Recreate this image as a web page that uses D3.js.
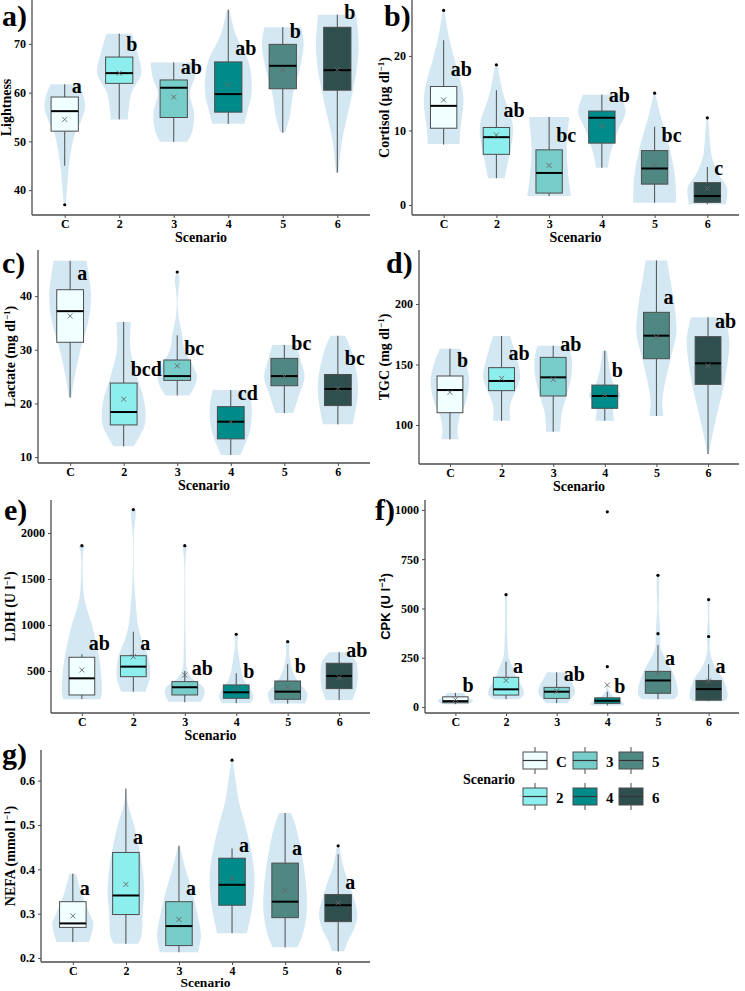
<!doctype html>
<html>
<head>
<meta charset="utf-8">
<script src="https://d3js.org/d3.v7.min.js"></script>
<style>
  body { margin:0; background:#fff; }
  svg text { font-family:"Liberation Serif","Times New Roman",serif; font-weight:bold; fill:#000; }
</style>
</head>
<body>
<svg id="fig" width="745" height="991"></svg>
<script>
var scenarios = ["C","2","3","4","5","6"]
var boxFill = ["#f0ffff","#8deeee","#76cdc9","#008b8b","#4f8783","#2f4f4f"]

// box rows: [lower whisker, q1, median, q3, upper whisker]
// violin rows: [value, relative density]
var lightnessBox = [[45,52.1,56.2,59.1,61.7],[54.5,61.9,64,67.3,72.1],[49.9,54.9,61.0,62.6,66.2],[53.6,56.0,59.7,66.3,77],[51.8,60.8,65.5,69.9,73.4],[43.6,60.5,64.6,73.4,76]]
var lightnessMean = [54.5,64,59.1,61.6,64.7,64.7]
var lightnessOut = [[37],[],[],[],[],[]]
var lightnessLetters = ["a","b","ab","ab","b","b"]
var lightnessLetterAt = [59.9,68.6,63.8,67.7,71.3,75.1]
var lightnessViolin = [
  [[61.7,.58],[59,.78],[57,.83],[54,.65],[51.6,.42],[46,.2],[40.7,.1],[37,.04]],
  [[72.1,.52],[68.1,.75],[64,.9],[60,.5],[56.4,.38],[54.5,.35]],
  [[66.2,.95],[63,.85],[60,.65],[55.8,.83],[52,.75],[49.9,.55]],
  [[77,.05],[72,.3],[66,.85],[60,.95],[56,.77],[53.6,.65]],
  [[73.4,.75],[70,.85],[65,.7],[60,.43],[55,.28],[51.8,.1]],
  [[76,.78],[70,.87],[65,.8],[60,.62],[55,.4],[50,.19],[43.6,.05]]]

var cortisolBox = [[8.1,10.3,13.3,15.9,22.1],[3.6,6.8,9.1,10.4,15.4],[1.2,1.6,4.3,7.4,11.8],[5.0,8.3,11.7,12.6,14.8],[0.3,2.8,4.9,7.3,10.5],[0.1,0.36,1.2,3.0,5.1]]
var cortisolMean = [14.1,9.4,5.3,10.6,5.4,2.2]
var cortisolOut = [[26.1],[18.8],[],[],[15],[11.7]]
var cortisolLetters = ["ab","ab","bc","ab","bc","c"]
var cortisolLetterAt = [17.3,11.8,8.5,13.8,8.5,4.0]
var cortisolViolin = [
  [[26.1,.03],[22,.26],[19.9,.43],[14.5,.83],[10,.7],[8.2,.67]],
  [[18.8,.05],[15,.28],[11,.68],[9,.68],[6,.5],[3.6,.35]],
  [[11.8,.85],[7.6,.74],[4.2,.8],[1.2,.92]],
  [[14.8,.8],[12.5,1.0],[10,.68],[7,.37],[5,.25]],
  [[15,.03],[12,.25],[7.8,.62],[3.8,.86],[1.5,.9],[0.3,.9]],
  [[11.7,.04],[9,.1],[6.3,.2],[4,.5],[2.3,.83],[0.1,.78]]]

var lactateBox = [[21.1,31.4,37.2,41.2,46.6],[12.0,16.0,18.4,23.8,35.2],[21.5,24.3,25.1,28.1,32.7],[10.4,13.4,16.6,19.4,22.5],[18.2,23.3,25.1,28.4,30.9],[16.1,19.6,22.7,25.4,32.6]]
var lactateMean = [36.3,20.8,27.0,16.5,25.0,22.8]
var lactateOut = [[],[],[44.5],[],[],[]]
var lactateLetters = ["a","bcd","bc","cd","bc","bc"]
var lactateLetterAt = [43,25.1,29.0,20.6,29.9,27.1]
var lactateViolin = [
  [[46.6,.68],[40,.87],[35,.74],[30,.43],[25,.19],[21.1,.05]],
  [[35.2,.3],[30,.28],[25,.55],[20,.87],[16,.87],[13,.55],[12,.43]],
  [[44.5,.03],[43,.1],[41,.05],[39,.02],[36,.06],[33,.2],[30,.3],[27,.65],[25,.82],[23,.7],[21.5,.5]],
  [[22.5,.75],[19.4,.87],[15,.8],[11.9,.55],[10.4,.4]],
  [[30.9,.5],[28,.68],[25,.84],[21.4,.6],[18.2,.37]],
  [[32.6,.3],[30,.55],[25,.8],[22,.83],[18.8,.74],[16.1,.62]]]

var tgcBox = [[88.2,110.2,128.9,140.5,163],[103.6,128.4,136.4,147.4,173.6],[94.5,124,139.4,155.9,165.5],[103.6,113.8,124,133,161.4],[107.4,154.8,173.8,193.1,236],[76,133.6,151,173,189]]
var tgcMean = [127,138.6,137.6,125,172.5,149]
var tgcOut = [[],[],[],[],[],[]]
var tgcLetters = ["b","ab","ab","b","a","ab"]
var tgcLetterAt = [147.7,153.7,161.4,139.4,199.8,180]
var tgcViolin = [
  [[163,.43],[150,.7],[135.8,.83],[117,.65],[110,.46],[95,.32],[88.2,.37]],
  [[173.6,.37],[162,.55],[140,.8],[128.9,.62],[116.5,.37],[103.6,.37]],
  [[165.5,.68],[155,.8],[140,.78],[123.4,.56],[110,.37],[94.5,.3]],
  [[161.4,.1],[145,.22],[130,.46],[125,.68],[115,.37],[103.6,.4]],
  [[236,.46],[219.8,.6],[200,.77],[175.8,.86],[160,.68],[140,.43],[120,.25],[107.4,.3]],
  [[189,.74],[170,.92],[150,.83],[130,.65],[110,.4],[90,.17],[76,.03]]]

var ldhBox = [[195,239,420,649,682],[275,438,547,666,927],[160,239,323,384,500],[150,203,268,348,475],[145,192,275,391,573],[185,308,446,584,703]]
var ldhMean = [511,655,456,312,326,430]
var ldhOut = [[1862],[2255],[1862],[899],[818],[]]
var ldhLetters = ["ab","a","ab","b","b","ab"]
var ldhLetterAt = [728,728,456,420,475,655]
var ldhViolin = [
  [[1862,.15],[1800,.06],[1600,.03],[1272,.12],[981,.46],[804,.62],[547,.8],[260,.86],[192,.8]],
  [[2255,.12],[2100,.07],[2000,.03],[1500,.03],[1199,.12],[1000,.2],[837,.37],[655,.65],[438,.72],[275,.52]],
  [[1862,.1],[1700,.03],[1300,.02],[800,.04],[500,.12],[400,.4],[330,.78],[258,.86],[166,.7]],
  [[899,.1],[800,.05],[650,.12],[500,.22],[400,.34],[300,.62],[221,.74],[149,.62]],
  [[818,.1],[700,.06],[547,.16],[450,.3],[366,.5],[250,.86],[145,.74]],
  [[703,.43],[600,.74],[500,.8],[400,.8],[300,.74],[185,.58]]]

var cpkBox = [[15,22,30,52,72],[40,61,90,151,230],[20,44,78,100,176],[8,19,32,47,78],[40,70,135,181,315],[30,35,91,135,217]]
var cpkMean = [38,135,80,112,171,132]
var cpkOut = [[],[570],[],[990,205],[668,372],[545,358]]
var cpkLetters = ["b","a","ab","b","a","a"]
var cpkLetterAt = [78,174,132,70,213,174]
var cpkViolin = [
  [[72,.38],[50,.5],[35,.77],[22,.7],[15,.5]],
  [[570,.05],[450,.04],[340,.06],[250,.12],[200,.3],[150,.46],[86,.77],[61,.77],[40,.55]],
  [[176,.43],[150,.55],[100,.77],[70,.8],[40,.62],[20,.46]],
  [[110,.03],[80,.08],[50,.3],[30,.6],[15,.75],[8,.6]],
  [[668,.05],[600,.06],[500,.03],[450,.06],[372,.1],[300,.12],[250,.3],[200,.55],[150,.74],[100,.86],[60,.86],[40,.7]],
  [[545,.05],[450,.03],[358,.08],[300,.05],[250,.12],[200,.3],[150,.6],[100,.77],[50,.83],[30,.7]]]

var nefaBox = [[.236,.269,.278,.327,.39],[.232,.298,.341,.438,.582],[.213,.228,.272,.327,.453],[.256,.319,.365,.425,.447],[.224,.291,.327,.414,.527],[.215,.282,.319,.343,.434]]
var nefaMean = [.295,.366,.287,.38,.352,.324]
var nefaOut = [[],[],[],[.646],[],[.453]]
var nefaLetters = ["a","a","a","a","a","a"]
var nefaLetterAt = [.341,.457,.341,.44,.432,.356]
var nefaViolin = [
  [[.39,.14],[.345,.37],[.3,.7],[.278,.86],[.236,.68]],
  [[.582,.02],[.55,.07],[.5,.34],[.45,.55],[.4,.7],[.35,.77],[.3,.7],[.25,.65],[.232,.52]],
  [[.453,.03],[.4,.28],[.35,.55],[.3,.77],[.25,.92],[.213,.8]],
  [[.646,.03],[.6,.15],[.55,.3],[.5,.55],[.45,.77],[.4,.92],[.35,.92],[.3,.8],[.256,.62]],
  [[.527,.25],[.5,.43],[.45,.65],[.4,.8],[.35,.9],[.3,.9],[.25,.72],[.224,.52]],
  [[.453,.05],[.43,.12],[.4,.25],[.37,.45],[.33,.68],[.3,.8],[.27,.7],[.24,.43],[.215,.25]]]

var panels = [
  {tag:"a)", tx:2, ty:26, left:32, right:370, top:0, bottom:215, domain:[34.9,79], ticks:[40,50,60,70], fmt:"d",
   ylab:["Lightness"], lx:11, box:lightnessBox, mean:lightnessMean, out:lightnessOut, let:lightnessLetters, letAt:lightnessLetterAt, vio:lightnessViolin, xt:27},
  {tag:"b)", tx:384, ty:26, left:412, right:739, top:0, bottom:215, domain:[-1.34,27.5], ticks:[0,10,20], fmt:"d",
   ylab:["Cortisol (μg dl","−1",")"], lx:389, box:cortisolBox, mean:cortisolMean, out:cortisolOut, let:cortisolLetters, letAt:cortisolLetterAt, vio:cortisolViolin, xt:27},
  {tag:"c)", tx:2, ty:273, left:38, right:370, top:250, bottom:463, domain:[8.9,48.6], ticks:[10,20,30,40], fmt:"d",
   ylab:["Lactate (mg dl","−1",")"], lx:15, box:lactateBox, mean:lactateMean, out:lactateOut, let:lactateLetters, letAt:lactateLetterAt, vio:lactateViolin, xt:27},
  {tag:"d)", tx:386, ty:273, left:419, right:739, top:250, bottom:464, domain:[67.8,244.6], ticks:[100,150,200], fmt:"d",
   ylab:["TGC (mg dl","−1",")"], lx:389, box:tgcBox, mean:tgcMean, out:tgcOut, let:tgcLetters, letAt:tgcLetterAt, vio:tgcViolin, xt:27},
  {tag:"e)", tx:4, ty:520, left:51, right:370, top:500, bottom:713, domain:[43,2359], ticks:[500,1000,1500,2000], fmt:"d",
   ylab:["LDH (U l","−1",")"], lx:15, box:ldhBox, mean:ldhMean, out:ldhOut, let:ldhLetters, letAt:ldhLetterAt, vio:ldhViolin, xt:27},
  {tag:"f)", tx:375, ty:520, left:425, right:739, top:500, bottom:713, domain:[-30,1050], ticks:[0,250,500,750,1000], fmt:"d",
   ylab:["CPK (U l","−1",")"], lx:390, sans:true, box:cpkBox, mean:cpkMean, out:cpkOut, let:cpkLetters, letAt:cpkLetterAt, vio:cpkViolin, xt:0},
  {tag:"g)", tx:2, ty:764, left:41, right:370, top:750, bottom:962, domain:[0.191,0.669], ticks:[.2,.3,.4,.5,.6], fmt:".1f",
   ylab:["NEFA (mmol l","−1",")"], lx:15, box:nefaBox, mean:nefaMean, out:nefaOut, let:nefaLetters, letAt:nefaLetterAt, vio:nefaViolin, xt:25, xsize:13.5}
]

var svg = d3.select("#fig")
var lineCol = "#4d4d4d"

panels.forEach(function(p){
  var x = d3.scalePoint().domain(scenarios).range([p.left, p.right]).padding(0.6)
  var y = d3.scaleLinear().domain(p.domain).range([p.bottom, p.top])
  var step = x.step()
  var g = svg.append("g")

  // violins
  p.vio.forEach(function(v, i){
    var cx = x(scenarios[i])
    var area = d3.area().curve(d3.curveCatmullRom.alpha(0.5))
      .y(function(d){ return y(d[0]) })
      .x0(function(d){ return cx - d[1]*step*0.45 })
      .x1(function(d){ return cx + d[1]*step*0.45 })
    g.append("path").attr("d", area(v)).attr("fill", "#d4e8f4")
  })

  // boxplots
  p.box.forEach(function(b, i){
    var cx = x(scenarios[i]), hw = step*0.25
    g.append("line").attr("x1",cx).attr("x2",cx).attr("y1",y(b[4])).attr("y2",y(b[3]))
      .attr("stroke",lineCol).attr("stroke-width",1)
    g.append("line").attr("x1",cx).attr("x2",cx).attr("y1",y(b[1])).attr("y2",y(b[0]))
      .attr("stroke",lineCol).attr("stroke-width",1)
    g.append("rect").attr("x",cx-hw).attr("width",hw*2).attr("y",y(b[3])).attr("height",y(b[1])-y(b[3]))
      .attr("fill",boxFill[i]).attr("stroke",lineCol).attr("stroke-width",1)
    g.append("line").attr("x1",cx-hw).attr("x2",cx+hw).attr("y1",y(b[2])).attr("y2",y(b[2]))
      .attr("stroke","#000").attr("stroke-width",2)
    // mean cross
    var my = y(p.mean[i])
    g.append("path").attr("d","M"+(cx-2.5)+","+(my-2.5)+"L"+(cx+2.5)+","+(my+2.5)+"M"+(cx-2.5)+","+(my+2.5)+"L"+(cx+2.5)+","+(my-2.5))
      .attr("stroke","#666").attr("stroke-width",0.9)
    p.out[i].forEach(function(o){
      g.append("circle").attr("cx",cx).attr("cy",y(o)).attr("r",1.6).attr("fill","#000")
    })
    g.append("text").attr("x",cx+7).attr("y",y(p.letAt[i])).attr("font-size",20).text(p.let[i])
  })

  // axes
  var ya = g.append("g").attr("transform","translate("+p.left+",0)")
    .call(d3.axisLeft(y).tickValues(p.ticks).tickFormat(d3.format(p.fmt)).tickSizeOuter(0).tickSize(3).tickPadding(3))
  var xa = g.append("g").attr("transform","translate(0,"+p.bottom+")")
    .call(d3.axisBottom(x).tickSizeOuter(0).tickSize(3).tickPadding(1))
  ;[ya, xa].forEach(function(a){
    a.select(".domain").attr("stroke",lineCol).attr("stroke-width",1.3)
    a.selectAll(".tick line").attr("stroke",lineCol)
    a.selectAll(".tick text").attr("font-size",12).attr("font-family",'"Liberation Serif",serif').attr("font-weight","bold").attr("fill","#000")
  })
  ya.select(".domain").attr("d","M0,"+p.top+"V"+p.bottom)
  xa.select(".domain").attr("d","M"+p.left+",0H"+p.right)

  if (p.xt) {
    g.append("text").attr("x",(p.left+p.right)/2).attr("y",p.bottom+p.xt)
      .attr("text-anchor","middle").attr("font-size",p.xsize || 14).text("Scenario")
  }

  // y title
  var yt = g.append("text").attr("transform","translate("+p.lx+","+(p.top+p.bottom)/2+") rotate(-90)")
    .attr("text-anchor","middle").attr("font-size",14)
  if (p.sans) yt.style("font-family",'"Liberation Sans",Arial,sans-serif').attr("font-size",13)
  yt.append("tspan").text(p.ylab[0])
  if (p.ylab.length > 1) {
    yt.append("tspan").attr("dy",-5).attr("font-size",9).text(p.ylab[1])
    yt.append("tspan").attr("dy",5).text(p.ylab[2])
  }

  // panel tag
  g.append("text").attr("x",p.tx).attr("y",p.ty).attr("font-size",30).text(p.tag)
})

// legend
var legCols = [523, 573, 619]
var legRows = [752, 788]
var leg = svg.append("g")
leg.append("text").attr("x",463).attr("y",784).attr("font-size",14).text("Scenario")
scenarios.forEach(function(s, i){
  var kx = legCols[Math.floor(i/2)], ky = legRows[i%2]
  leg.append("line").attr("x1",kx+12).attr("x2",kx+12).attr("y1",ky-5).attr("y2",ky+22).attr("stroke",lineCol)
  leg.append("rect").attr("x",kx).attr("y",ky).attr("width",24).attr("height",17)
    .attr("fill",boxFill[i]).attr("stroke",lineCol)
  leg.append("line").attr("x1",kx).attr("x2",kx+24).attr("y1",ky+8.5).attr("y2",ky+8.5).attr("stroke","#333").attr("stroke-width",1.2)
  leg.append("text").attr("x",kx+33).attr("y",ky+15).attr("font-size",15).text(s)
})
</script>
</body>
</html>
